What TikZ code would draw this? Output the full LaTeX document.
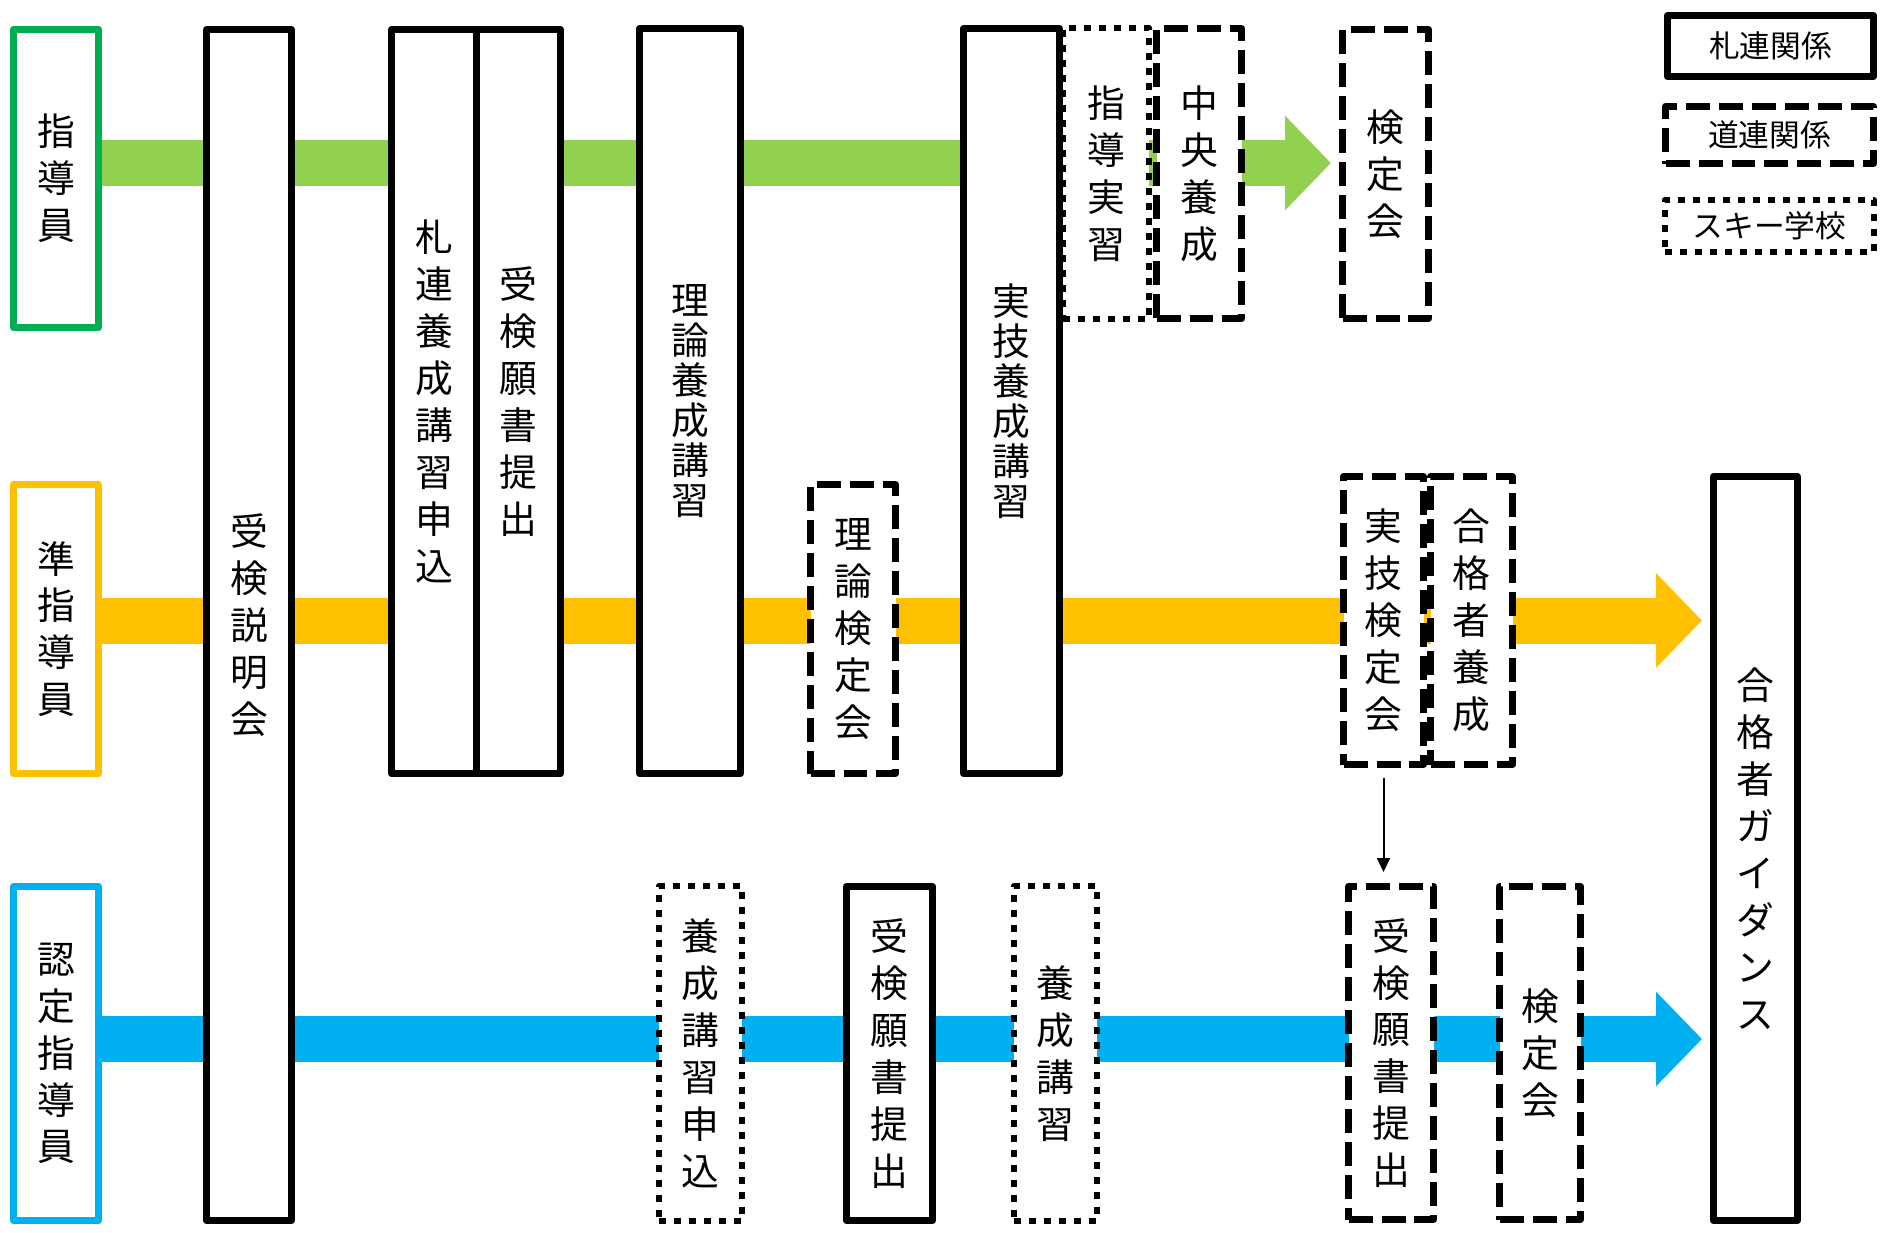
\documentclass[tikz,border=0pt]{standalone}
\usepackage{fontspec}
\newfontfamily\jp{Noto Sans CJK JP}
\usetikzlibrary{arrows.meta}
\definecolor{shgreen}{HTML}{00B050}
\definecolor{shlime}{HTML}{92D050}
\definecolor{shorange}{HTML}{FFC000}
\definecolor{shblue}{HTML}{00B0F0}
\pgfdeclarelayer{background}
\pgfsetlayers{background,main}

\begin{document}
\begin{tikzpicture}[x=0.02cm,y=-0.02cm,
    wh/.style 2 args={minimum width=#1*0.02cm,minimum height=#2*0.02cm},
    stage/.style={draw,line width=0.14cm,line join=round,fill=white,inner sep=0,align=center,font=\jp\fontsize{21.5}{26.7}\selectfont},
    tight/.style={font=\jp\fontsize{21.5}{22.8}\selectfont},
    doren/.style={stage,dash pattern=on 0.48cm off 0.18cm},
    school/.style={stage,line width=0.13cm,dash pattern=on 0.14cm off 0.16cm},
    role/.style={stage,draw=#1},
    keybox/.style={font=\jp\fontsize{17.5}{20}\selectfont},
    flowbar/.style={line width=0.92cm,draw=#1,-{Triangle[width=1.84cm,length=0.92cm]}}]
        \useasboundingbox (0,0) rectangle (1884,1232);
        % rows
        \node[role=shgreen,wh={85}{298}] (shidoin) at (56,178.5) {指\\導\\員};
        \node[role=shorange,wh={85}{289}] (junshido) at (56,629) {準\\指\\導\\員};
        \node[role=shblue,wh={85}{334}] (nintei) at (56,1053.5) {認\\定\\指\\導\\員};
        % sapporo
        \node[stage,wh={85}{1191}] (setsumei) at (249,625) {受\\検\\説\\明\\会};
        \node[stage,wh={85}{744}] (moushikomi) at (434,401.5) {札\\連\\養\\成\\講\\習\\申\\込};
        \node[stage,wh={84}{744}] (gansho) at (518.5,401.5) {受\\検\\願\\書\\提\\出};
        \node[stage,tight,wh={101}{745}] (riron) at (690,401) {理\\論\\養\\成\\講\\習};
        \node[stage,tight,wh={96}{745}] (jitsugi) at (1011.5,401) {実\\技\\養\\成\\講\\習};
        \node[stage,wh={86}{334}] (ganshob) at (889.5,1053.5) {受\\検\\願\\書\\提\\出};
        \node[stage,wh={84}{744}] (guidance) at (1755.5,848.5) {合\\格\\者\\ガ\\イ\\ダ\\ン\\ス};
        % doren
        \node[school,wh={86}{291}] (jisshu) at (1106,173.5) {指\\導\\実\\習};
        \node[doren,wh={85}{290}] (chuo) at (1199,173.5) {中\\央\\養\\成};
        \node[doren,wh={86}{289}] (kentei) at (1385.5,174) {検\\定\\会};
        \node[doren,wh={85}{289}] (rironkentei) at (853,629) {理\\論\\検\\定\\会};
        \node[doren,wh={80}{288}] (jitsukentei) at (1383.5,620.5) {実\\技\\検\\定\\会};
        \node[doren,wh={82}{288}] (goukaku) at (1471.5,620.5) {合\\格\\者\\養\\成};
        \node[doren,wh={85}{333}] (ganshoc) at (1391,1053) {受\\検\\願\\書\\提\\出};
        \node[doren,wh={81}{333}] (kenteib) at (1540,1053) {検\\定\\会};
        % ski school
        \node[school,wh={83}{335}] (youseia) at (700.5,1053.5) {養\\成\\講\\習\\申\\込};
        \node[school,wh={83}{335}] (youseib) at (1055.5,1053.5) {養\\成\\講\\習};
        % legend
        \node[stage,keybox,wh={206}{61}] (keysatsu) at (1770.5,46) {札連関係};
        \node[doren,keybox,wh={208}{57}] (keydo) at (1769.5,135) {道連関係};
        \node[school,keybox,wh={209}{52}] (keyschool) at (1769.5,226) {スキー学校};
        % flows
        \coordinate (greentip) at (1331,163);
        \coordinate (orangetip) at (1702,620.5);
        \coordinate (bluetip) at (1702,1039);
        \begin{pgfonlayer}{background}
        \draw[flowbar=shlime] (shidoin.east |- greentip) -- (greentip);
        \draw[flowbar=shorange] (junshido.east |- orangetip) -- (orangetip);
        \draw[flowbar=shblue] (nintei.east |- bluetip) -- (bluetip);
        \end{pgfonlayer}
        \draw[line width=0.04cm,-{Triangle[width=0.26cm,length=0.28cm]},shorten <=0.2cm,shorten >=0.22cm] (jitsukentei.south) -- (jitsukentei.south |- ganshoc.north);
\end{tikzpicture}
\end{document}
